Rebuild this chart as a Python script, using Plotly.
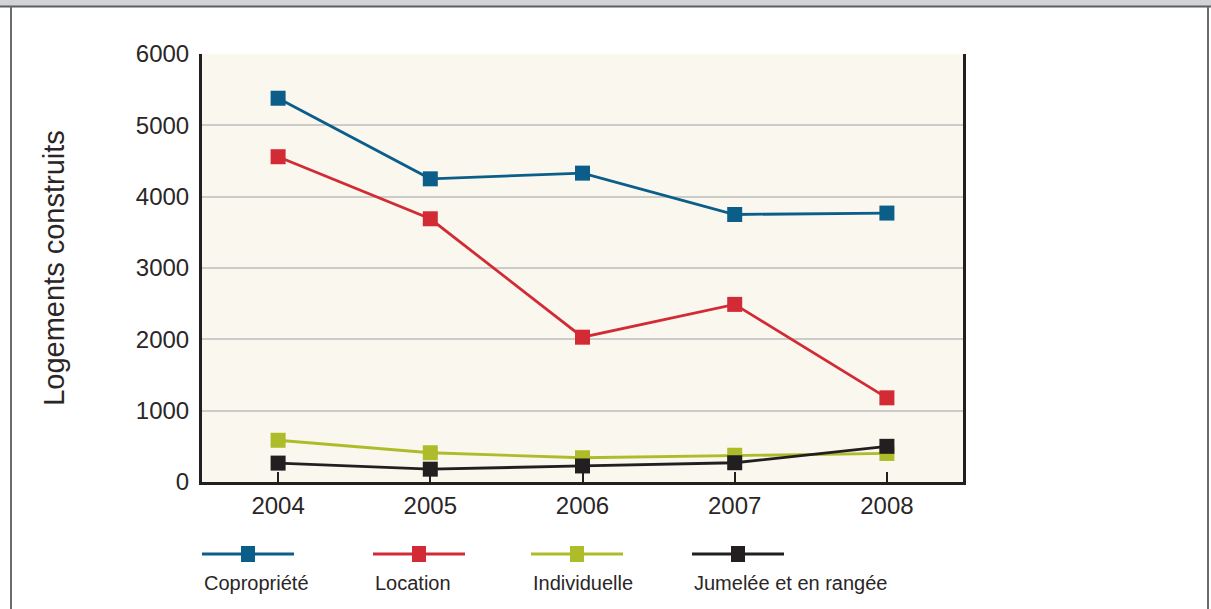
import plotly.graph_objects as go

# Housing starts by type
years = ["2004", "2005", "2006", "2007", "2008"]
copropriete = [5380, 4250, 4330, 3750, 3770]
location = [4560, 3690, 2030, 2490, 1180]
individuelle = [585, 410, 340, 375, 400]
jumelee = [265, 180, 225, 270, 500]

series_names = ["Copropriété", "Location", "Individuelle", "Jumelée et en rangée"]
series_values = [copropriete, location, individuelle, jumelee]
series_colors = ["#0B5E8A", "#D22B36", "#AEBC2A", "#231F20"]

y_ticks = [0, 1000, 2000, 3000, 4000, 5000, 6000]

W, H = 1211, 609
ML, MR, MT, MB = 202, 248, 54, 127
PW, PH = W - ML - MR, H - MT - MB
FONT = "Liberation Sans, Arial, sans-serif"
TEXT = "#2A2627"


def px(x):
    return (x - ML) / PW


def py(y):
    return (H - MB - y) / PH


fig = go.Figure()
for name, vals, col in zip(series_names, series_values, series_colors):
    fig.add_trace(go.Scatter(
        x=years, y=vals, name=name, mode="lines+markers",
        line=dict(color=col, width=2.8),
        marker=dict(symbol="square", size=15, color=col, line=dict(width=0)),
        cliponaxis=False,
    ))

shapes = []
# page frame: grey band on top, thin borders on the sides
shapes.append(dict(type="rect", xref="paper", yref="paper",
                   x0=px(0), x1=px(W), y0=py(0), y1=py(6),
                   fillcolor="#D1D3D7", line=dict(width=0), layer="above"))
shapes.append(dict(type="line", xref="paper", yref="paper",
                   x0=px(0), x1=px(W), y0=py(6.5), y1=py(6.5),
                   line=dict(color="#5E5F61", width=2)))
for bx in (11, 1208):
    shapes.append(dict(type="line", xref="paper", yref="paper",
                       x0=px(bx), x1=px(bx), y0=py(6.5), y1=py(H),
                       line=dict(color="#6A6B6D", width=2)))

# legend: line with a square marker, label underneath
legend_x = [202, 373, 531, 692]
legend_len = 92
annotations = []
for lx, name, col in zip(legend_x, series_names, series_colors):
    cx = lx + legend_len / 2
    shapes.append(dict(type="line", xref="paper", yref="paper",
                       x0=px(lx), x1=px(lx + legend_len), y0=py(554), y1=py(554),
                       line=dict(color=col, width=2.8)))
    shapes.append(dict(type="rect", xref="paper", yref="paper",
                       x0=px(cx - 7), x1=px(cx + 7), y0=py(546), y1=py(562),
                       fillcolor=col, line=dict(width=0)))
    annotations.append(dict(xref="paper", yref="paper", x=px(lx), y=py(583),
                            xanchor="left", yanchor="middle", showarrow=False,
                            text=name, font=dict(family=FONT, size=20, color=TEXT)))

fig.update_layout(
    width=W, height=H,
    margin=dict(l=ML, r=MR, t=MT, b=MB, pad=0),
    paper_bgcolor="white",
    plot_bgcolor="#F9F7EE",
    showlegend=False,
    shapes=shapes,
    annotations=annotations,
    font=dict(family=FONT, color=TEXT),
)

fig.update_xaxes(
    type="category", range=[-0.5, 4.5],
    showline=True, linecolor="#231F20", linewidth=3,
    ticks="inside", ticklen=10, tickwidth=2, tickcolor="#231F20",
    showgrid=False, zeroline=False,
    tickfont=dict(family=FONT, size=24, color=TEXT),
    ticklabelstandoff=0,
)
fig.update_yaxes(
    range=[0, 6000], tickvals=y_ticks,
    showline=True, linecolor="#231F20", linewidth=3, mirror=True,
    ticks="", showgrid=True, gridcolor="#CBCBC9", gridwidth=1.5,
    zeroline=False,
    tickfont=dict(family=FONT, size=24, color=TEXT),
    ticklabelstandoff=5,
    title=dict(text="Logements construits", standoff=63,
               font=dict(family=FONT, size=29, color=TEXT)),
)

fig.write_html("out.html")
